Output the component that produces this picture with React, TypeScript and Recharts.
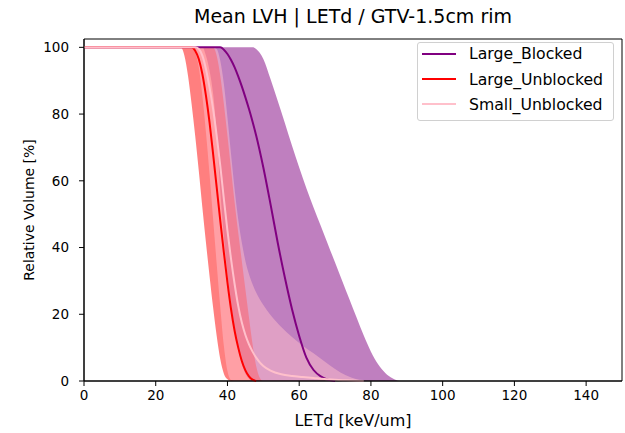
import { ComposedChart, Area, Line, XAxis, YAxis, ReferenceArea } from 'recharts';

const FONT = '"DejaVu Sans", sans-serif';

const X_TICKS = [0, 20, 40, 60, 80, 100, 120, 140];
const Y_TICKS = [0, 20, 40, 60, 80, 100];

// Large_Blocked (LETd grid, lower band edge, mean, upper band edge)
const LB_X = [0, 33, 34, 35, 36, 37, 38, 39, 40, 41, 42, 43, 44, 45, 46, 47, 48, 50, 52, 54, 56, 58, 60, 62, 64, 66, 68, 70, 72, 74, 76, 78, 80, 82, 84, 86, 88, 150];
const LB_LO = [100, 100, 97.5, 93, 86, 74, 57, 43, 32, 23, 15.5, 9.5, 5, 2.2, 0.7, 0, 0, 0, 0, 0, 0, 0, 0, 0, 0, 0, 0, 0, 0, 0, 0, 0, 0, 0, 0, 0, 0, 0];
const LB_MEAN = [100, 100, 100, 100, 100, 100, 100, 99.3, 98, 96.2, 94, 91.3, 88.3, 85, 81.5, 77.7, 73.6, 64, 53, 41.5, 31, 21.5, 13.5, 7, 3.3, 1.4, 0.4, 0, null, null, null, null, null, null, null, null, null, null];
const LB_HI = [100, 100, 100, 100, 100, 100, 100, 100, 100, 100, 100, 100, 100, 100, 100, 100, 99.5, 96.5, 90.5, 84, 77.3, 70.5, 64, 57.8, 52, 46.5, 41, 35.5, 30, 24.5, 19, 13.6, 8.8, 5, 2.4, 0.8, 0, 0];

// Large_Unblocked
const LU_X = [0, 27, 28, 29, 30, 31, 32, 33, 34, 35, 36, 37, 38, 39, 40, 41, 42, 43, 44, 45, 46, 47, 48, 49, 50, 150];
const LU_LO = [100, 100, 97.5, 91.5, 83, 73.5, 63, 52, 41.5, 31.5, 22, 13.5, 6.5, 2.2, 0.5, 0, 0, 0, 0, 0, 0, 0, 0, 0, 0, 0];
const LU_MEAN = [100, 100, 100, 100, 100, 99, 96.5, 92, 85.5, 77.5, 68, 58, 48, 38.5, 29.5, 21.5, 15, 10, 6, 3.2, 1.4, 0.4, 0, null, null, null];
const LU_HI = [100, 100, 100, 100, 100, 100, 100, 100, 100, 100, 100, 97.5, 91.5, 83, 73.5, 63.5, 53.5, 44.5, 36, 27.5, 19, 11, 4.5, 1, 0, 0];

// Small_Unblocked
const SU_X = [0, 29, 30, 31, 32, 33, 34, 35, 36, 37, 38, 39, 40, 41, 42, 43, 44, 45, 46, 47, 48, 49, 50, 52, 55, 58, 61, 64, 67, 70, 73, 76, 78, 80, 150];
const SU_LO = [100, 100, 100, 98.5, 94, 85.5, 74.5, 62, 48.5, 35, 22, 10.5, 3, 0.3, 0, 0, 0, 0, 0, 0, 0, 0, 0, 0, 0, 0, 0, 0, 0, 0, 0, 0, 0, 0, 0];
const SU_MEAN = [100, 100, 100, 100, 99.5, 97.5, 93.5, 88, 81.5, 73.5, 64.5, 54.5, 45, 36.5, 29, 22.5, 17.5, 13.8, 11, 8.8, 7, 5.6, 4.5, 3.1, 2, 1.5, 1.2, 0.9, 0.6, 0.4, 0.2, 0.1, 0, null, null];
const SU_HI = [100, 100, 100, 100, 100, 100, 100, 100, 100, 99.5, 96, 89, 79, 68, 57.5, 48.5, 41.5, 36, 32, 29, 26.5, 24.5, 22.8, 19.8, 16.2, 13.2, 10.6, 8.3, 5.9, 3.6, 1.7, 0.5, 0, 0, 0];

function rows(xs: number[], lo: number[], mean: (number | null)[], hi: number[]) {
  return xs.map((x, i) => ({ x, band: [lo[i], hi[i]], mean: mean[i] }));
}

const SERIES = [
  { name: 'Large_Blocked', color: '#800080', data: rows(LB_X, LB_LO, LB_MEAN, LB_HI) },
  { name: 'Large_Unblocked', color: '#ff0000', data: rows(LU_X, LU_LO, LU_MEAN, LU_HI) },
  { name: 'Small_Unblocked', color: '#ffc0cb', data: rows(SU_X, SU_LO, SU_MEAN, SU_HI) },
];

const tickStyle = { fill: '#000', fontSize: 13.5, fontFamily: FONT };

export default function App() {
  return (
    <div style={{ position: 'absolute', left: 0, top: 0, width: 625, height: 433, background: '#fff', fontFamily: FONT }}>
      <div
        style={{
          position: 'absolute',
          top: 7,
          left: 84,
          width: 538,
          textAlign: 'center',
          fontSize: 19,
          lineHeight: '19px',
          color: '#000',
        }}
      >
        Mean LVH | LETd / GTV-1.5cm rim
      </div>
      <ComposedChart width={625} height={433} margin={{ top: 39, right: 3, bottom: 0, left: 0 }}>
        <XAxis
          type="number"
          dataKey="x"
          domain={[0, 150]}
          ticks={X_TICKS}
          height={52}
          tick={tickStyle}
          tickSize={5}
          tickMargin={4}
          tickLine={{ stroke: '#000' }}
          axisLine={{ stroke: '#000' }}
          label={{ value: 'LETd [keV/um]', position: 'insideBottom', offset: 7, fill: '#000', fontSize: 16, fontFamily: FONT }}
        />
        <YAxis
          type="number"
          domain={[0, 102.5]}
          ticks={Y_TICKS}
          width={84}
          tick={tickStyle}
          tickSize={5}
          tickMargin={10}
          tickLine={{ stroke: '#000' }}
          axisLine={{ stroke: '#000' }}
          label={{
            value: 'Relative Volume [%]',
            angle: -90,
            position: 'insideLeft',
            offset: 29,
            fill: '#000',
            fontSize: 14,
            fontFamily: FONT,
            style: { textAnchor: 'middle' },
          }}
        />
        {SERIES.map((s) => (
          <Area
            key={`band-${s.name}`}
            data={s.data}
            dataKey="band"
            type="monotone"
            stroke="none"
            fill={s.color}
            fillOpacity={0.5}
            isAnimationActive={false}
          />
        ))}
        {SERIES.map((s) => (
          <Line
            key={`mean-${s.name}`}
            data={s.data}
            dataKey="mean"
            name={s.name}
            type="monotone"
            stroke={s.color}
            strokeWidth={2}
            dot={false}
            isAnimationActive={false}
          />
        ))}
        <ReferenceArea x1={0} x2={150} y1={0} y2={102.5} fill="none" stroke="#000" strokeWidth={1} />
      </ComposedChart>
      <div
        style={{
          position: 'absolute',
          left: 417,
          top: 42,
          width: 195,
          height: 77,
          border: '1px solid #d0d0d0',
          borderRadius: 3,
          background: 'rgba(255,255,255,0.8)',
        }}
      >
        {SERIES.map((s, i) => (
          <div
            key={s.name}
            style={{
              position: 'absolute',
              left: 0,
              top: 10.7 + i * 25.3 - 12,
              height: 24,
              display: 'flex',
              alignItems: 'center',
            }}
          >
            <span style={{ display: 'inline-block', marginLeft: 4, width: 34, height: 2, background: s.color }} />
            <span style={{ marginLeft: 13, fontSize: 15.7, color: '#000', whiteSpace: 'nowrap' }}>{s.name}</span>
          </div>
        ))}
      </div>
    </div>
  );
}
